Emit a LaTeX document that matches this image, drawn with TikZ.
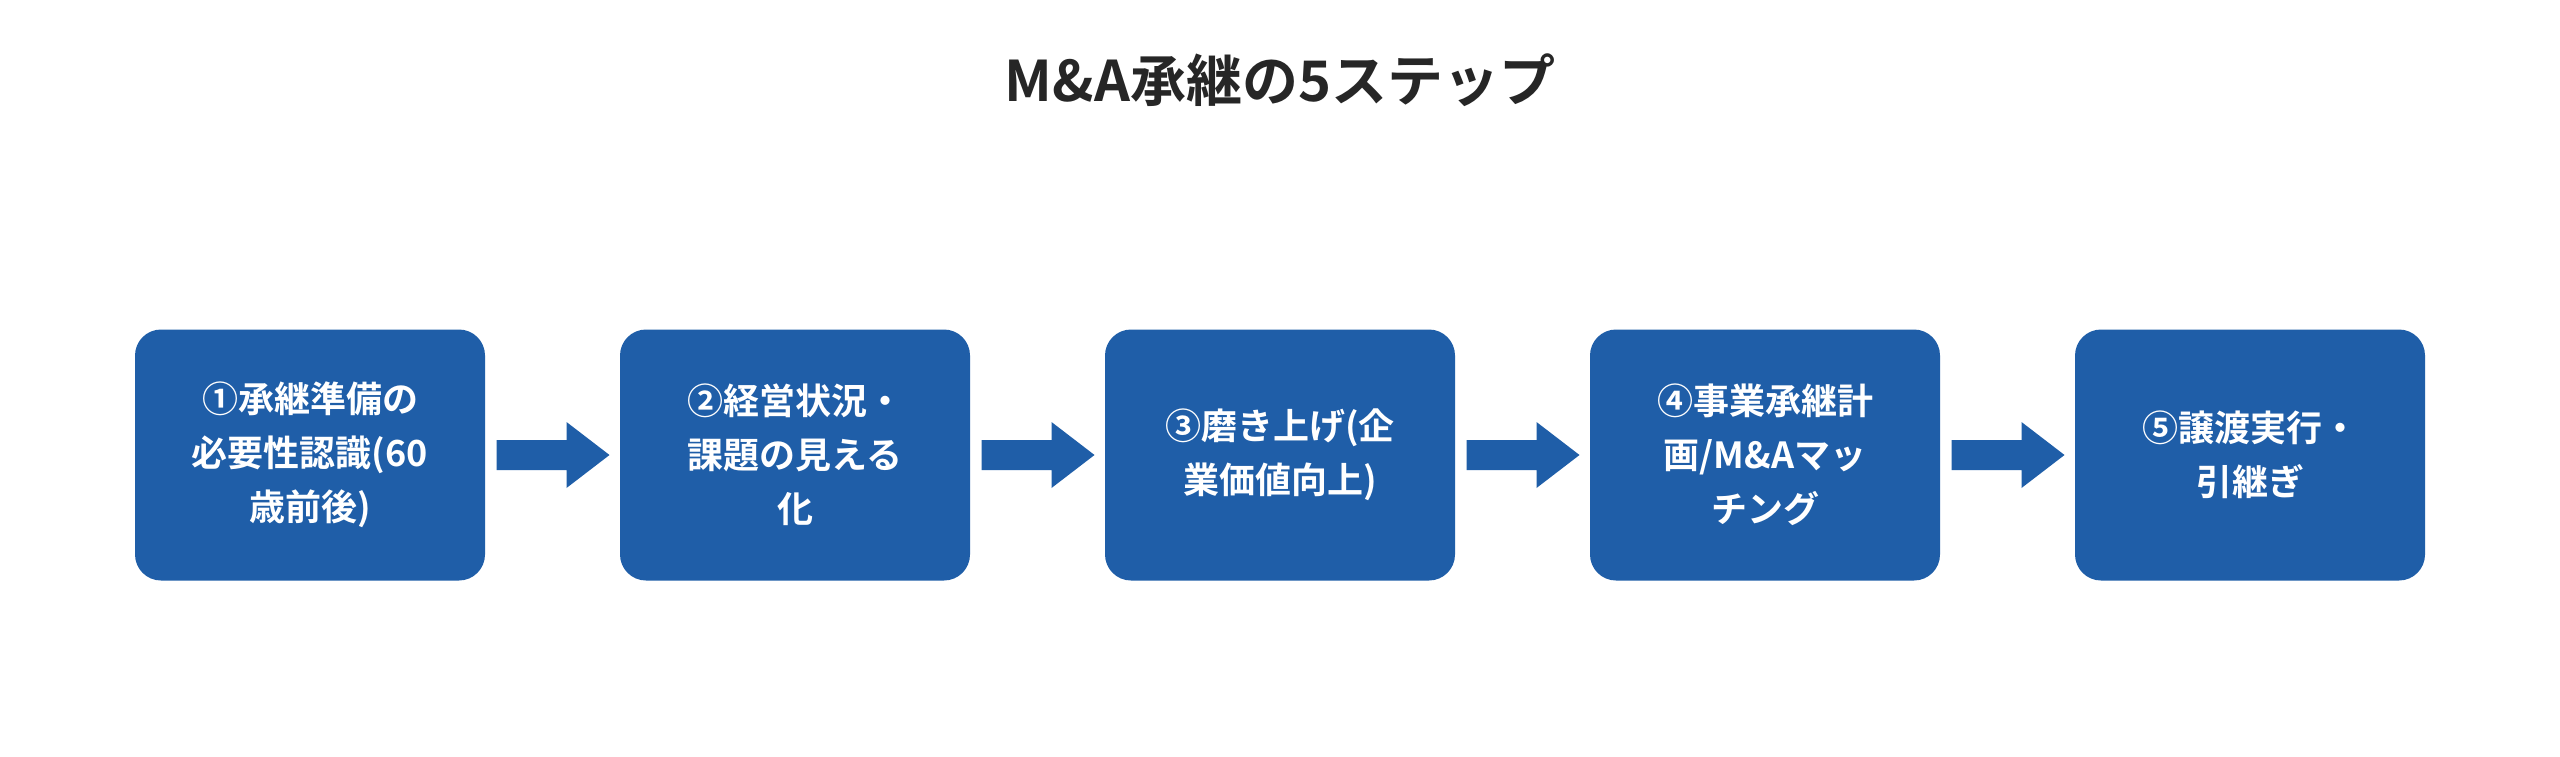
\documentclass[tikz,border=0pt]{standalone}
\usepackage{fontspec}
\setmainfont{Noto Sans CJK JP}[BoldFont={Noto Sans CJK JP Bold}]
\begin{document}
\begin{tikzpicture}[x=1pt,y=-1pt,
  box/.style={fill=boxc,rounded corners=26pt,minimum width=350pt,minimum height=251pt,inner sep=0pt,text=white,font=\fontsize{36}{54}\selectfont\bfseries,align=center},
  arr/.style={fill=boxc,draw=none}]
\definecolor{boxc}{HTML}{1F5EA8}
\useasboundingbox (0,0) rectangle (2560,756);
\fill[white] (0,0) rectangle (2560,756);
\node[font=\fontsize{56}{60}\selectfont\bfseries,text=black!85] (title) at (1280,80) {M\&A承継の5ステップ};
\node[box] (b1) at (310,455) {①承継準備の\\必要性認識(60\\歳前後)};
\node[box] (b2) at (795,455) {②経営状況・\\課題の見える\\化};
\node[box] (b3) at (1280,455) {③磨き上げ(企\\業価値向上)};
\node[box] (b4) at (1765,455) {④事業承継計\\画/M\&Aマッ\\チング};
\node[box] (b5) at (2250,455) {⑤譲渡実行・\\引継ぎ};
\foreach \a/\b in {b1/b2,b2/b3,b3/b4,b4/b5}{
  \path (\a.east) -- (\b.west) coordinate[pos=0.5] (m);
  \fill[boxc] ([shift={(-56,-15)}]m) -- ([shift={(14,-15)}]m) -- ([shift={(14,-33)}]m) -- ([shift={(57,0)}]m) -- ([shift={(14,33)}]m) -- ([shift={(14,15)}]m) -- ([shift={(-56,15)}]m) -- cycle;
}
\end{tikzpicture}
\end{document}
